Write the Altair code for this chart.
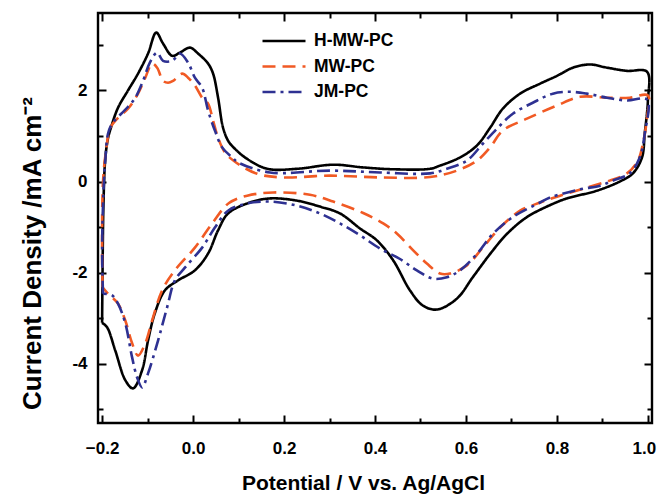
import altair as alt
import pandas as pd

series_names = ["H-MW-PC", "MW-PC", "JM-PC"]
series_colors = ["#000000", "#F15A24", "#2E3192"]
series_dashes = [[1, 0], [13, 7], [13, 5, 3, 5]]

# H-MW-PC (closed CV loop, in scan order)
h_x = [-0.200, -0.199, -0.197, -0.193, -0.187, -0.180, -0.165, -0.143, -0.121, -0.099,
       -0.081, -0.066, -0.046, -0.029, -0.007, 0.011, 0.033, 0.044, 0.055, 0.066,
       0.078, 0.092, 0.117, 0.163, 0.229, 0.308, 0.374, 0.440, 0.521, 0.543,
       0.587, 0.624, 0.653, 0.681, 0.719, 0.763, 0.800, 0.835, 0.873, 0.910,
       0.954, 0.998, 1.000, 0.993, 0.987, 0.967, 0.938, 0.888, 0.822, 0.791,
       0.734, 0.690, 0.653, 0.615, 0.580, 0.536, 0.505, 0.477, 0.440, 0.404,
       0.367, 0.323, 0.279, 0.229, 0.169, 0.125, 0.077, 0.055, 0.033, 0.004,
       -0.033, -0.062, -0.084, -0.099, -0.112, -0.132, -0.149, -0.171, -0.189, -0.200]
h_y = [-3.10, -2.00, -0.50, 0.50, 0.95, 1.20, 1.62, 2.00, 2.37, 2.81,
       3.27, 3.03, 2.76, 2.83, 2.94, 2.81, 2.59, 2.37, 1.84, 1.18,
       0.88, 0.72, 0.51, 0.28, 0.28, 0.37, 0.31, 0.27, 0.28, 0.35,
       0.53, 0.79, 1.18, 1.60, 1.93, 2.15, 2.32, 2.50, 2.57, 2.50,
       2.43, 2.41, 1.78, 1.05, 0.53, 0.18, 0.00, -0.20, -0.37, -0.49,
       -0.78, -1.15, -1.59, -2.10, -2.57, -2.81, -2.72, -2.39, -1.73, -1.29,
       -1.03, -0.70, -0.55, -0.42, -0.37, -0.46, -0.70, -1.07, -1.58, -1.95,
       -2.17, -2.39, -2.89, -3.49, -4.14, -4.54, -4.36, -3.71, -3.20, -3.10]

# MW-PC
m_x = [-0.199, -0.200, -0.198, -0.191, -0.182, -0.165, -0.143, -0.121, -0.105, -0.090,
       -0.079, -0.066, -0.055, -0.044, -0.024, -0.011, 0.004, 0.020, 0.033, 0.044,
       0.055, 0.070, 0.090, 0.141, 0.198, 0.301, 0.411, 0.521, 0.580, 0.624,
       0.653, 0.681, 0.734, 0.800, 0.851, 0.910, 0.960, 1.000, 0.998, 0.989,
       0.978, 0.954, 0.916, 0.866, 0.807, 0.763, 0.719, 0.675, 0.637, 0.602,
       0.565, 0.543, 0.514, 0.484, 0.448, 0.418, 0.374, 0.308, 0.257, 0.176,
       0.119, 0.079, 0.042, 0.004, -0.040, -0.068, -0.090, -0.105, -0.121, -0.134,
       -0.149, -0.165, -0.187, -0.199]
m_y = [-2.32, -1.45, 0.00, 0.70, 1.18, 1.40, 1.60, 1.93, 2.28, 2.59,
       2.50, 2.21, 2.17, 2.21, 2.37, 2.28, 2.11, 1.84, 1.71, 1.34,
       0.96, 0.64, 0.45, 0.17, 0.09, 0.13, 0.09, 0.10, 0.24, 0.46,
       0.75, 1.12, 1.38, 1.67, 1.86, 1.84, 1.84, 1.89, 1.40, 0.83,
       0.46, 0.18, 0.02, -0.13, -0.31, -0.46, -0.64, -1.01, -1.45, -1.84,
       -2.02, -2.02, -1.80, -1.51, -1.14, -0.92, -0.69, -0.44, -0.29, -0.24,
       -0.31, -0.47, -0.92, -1.45, -1.95, -2.39, -3.05, -3.55, -3.82, -3.55,
       -3.05, -2.68, -2.46, -2.32]

# JM-PC
j_x = [-0.198, -0.200, -0.196, -0.193, -0.187, -0.178, -0.145, -0.127, -0.110, -0.095,
       -0.079, -0.066, -0.046, -0.029, -0.011, 0.004, 0.020, 0.033, 0.048, 0.064,
       0.086, 0.099, 0.169, 0.301, 0.411, 0.521, 0.558, 0.602, 0.637, 0.668,
       0.703, 0.747, 0.791, 0.829, 0.866, 0.910, 0.954, 0.998, 0.993, 0.982,
       0.960, 0.923, 0.895, 0.851, 0.785, 0.763, 0.703, 0.659, 0.624, 0.587,
       0.558, 0.527, 0.492, 0.455, 0.411, 0.367, 0.323, 0.279, 0.229, 0.169,
       0.119, 0.077, 0.048, 0.020, -0.018, -0.040, -0.057, -0.077, -0.099, -0.112,
       -0.123, -0.134, -0.149, -0.165, -0.178, -0.198]
j_y = [-2.46, -1.45, 0.00, 0.46, 1.05, 1.27, 1.62, 1.84, 2.21, 2.61,
       2.83, 2.65, 2.65, 2.81, 2.61, 2.28, 2.06, 1.56, 1.12, 0.75,
       0.53, 0.42, 0.20, 0.24, 0.20, 0.18, 0.28, 0.46, 0.83, 1.16,
       1.49, 1.73, 1.93, 1.97, 1.93, 1.84, 1.78, 1.80, 1.05, 0.53,
       0.18, 0.02, -0.09, -0.17, -0.35, -0.46, -0.78, -1.15, -1.59, -1.95,
       -2.10, -2.13, -1.95, -1.70, -1.47, -1.18, -0.92, -0.70, -0.53, -0.44,
       -0.48, -0.64, -1.01, -1.45, -1.89, -2.17, -2.76, -3.49, -4.21, -4.52,
       -4.30, -3.86, -3.11, -2.68, -2.50, -2.46]

major_x = [-0.2, 0.0, 0.2, 0.4, 0.6, 0.8, 1.0]
minor_x = [-0.1, 0.1, 0.3, 0.5, 0.7, 0.9]
major_y = [-4, -2, 0, 2]
minor_y = [-5, -3, -1, 1, 3]

rows = []
for name, xs_, ys_ in zip(series_names, [h_x, m_x, j_x], [h_y, m_y, j_y]):
    for i, (xv, yv) in enumerate(zip(xs_, ys_)):
        rows.append({"series": name, "idx": i, "E": xv, "J": yv})
df = pd.DataFrame(rows)

FONT = "Liberation Sans"
xscale = alt.Scale(domain=[-0.209, 1.009], nice=False, zero=False)
yscale = alt.Scale(domain=[-5.3, 3.7], nice=False, zero=False)


def tick_axis(orient, values, size, labels=False, **kw):
    if not labels:
        kw["title"] = None
    return alt.Axis(orient=orient, values=values, offset=-size, tickSize=size, tickWidth=2,
                    tickColor="black", domain=False, grid=False, labels=labels, **kw)


legend = alt.Legend(
    title=None, orient="none", legendX=163, legendY=18, symbolType="stroke",
    symbolSize=1849, symbolStrokeWidth=2.6, clipHeight=20, rowPadding=5.5,
    labelFont=FONT, labelFontSize=17.5, labelFontWeight="bold", labelColor="black",
    labelOffset=7, padding=0, offset=0,
)

x_main = tick_axis(
    "bottom", major_x, 8, labels=True, format=".1f",
    labelFont=FONT, labelFontSize=17, labelFontWeight="bold", labelColor="black",
    labelPadding=17,
    labelOffset={"condition": {"test": "datum.value >= 0.99", "value": -4}, "value": 0},
    title="Potential / V vs. Ag/AgCl",
    titleFont=FONT, titleFontSize=21, titleFontWeight="bold", titleColor="black",
    titleX=265, titleY=68, titleBaseline="middle", titleAlign="center",
)
y_main = tick_axis(
    "left", major_y, 8, labels=True, format="d",
    labelExpr="replace(datum.label, '\u2212', '-')",
    labelFont=FONT, labelFontSize=17, labelFontWeight="bold", labelColor="black",
    labelPadding=11, title="Current Density /mA cm\u207b\u00b2",
    titleFont=FONT, titleFontSize=26, titleFontWeight="bold", titleColor="black",
    titleX=-74, titleY=240, titleBaseline="middle", titleAlign="center", titleAngle=270,
)

lines = alt.Chart(df).mark_line(strokeWidth=2.6, interpolate="catmull-rom").encode(
    x=alt.X("E:Q", scale=xscale, axis=x_main),
    y=alt.Y("J:Q", scale=yscale, axis=y_main),
    color=alt.Color("series:N", scale=alt.Scale(domain=series_names, range=series_colors), legend=legend),
    strokeDash=alt.StrokeDash("series:N", scale=alt.Scale(domain=series_names, range=series_dashes), legend=legend),
    order=alt.Order("idx:Q"),
)


def ghost(xax, yax):
    return alt.Chart(df).mark_point(opacity=0).encode(
        x=alt.X("E:Q", scale=xscale, axis=xax),
        y=alt.Y("J:Q", scale=yscale, axis=yax),
    )


g1 = ghost(tick_axis("bottom", minor_x, 5), tick_axis("left", minor_y, 5))
g2 = ghost(tick_axis("top", major_x, 8), tick_axis("right", major_y, 8))
g3 = ghost(tick_axis("top", minor_x, 5), tick_axis("right", minor_y, 5))

chart = alt.layer(lines, g1, g2, g3).resolve_axis(
    x="independent", y="independent"
).properties(
    width=554, height=410,
    autosize=alt.AutoSizeParams(type="none"),
    padding={"left": 98, "top": 13, "right": 5, "bottom": 74},
    background="white",
).configure_view(stroke="black", strokeWidth=2.4)

chart.save("out.html", embed_options={"renderer": "svg", "actions": False})
